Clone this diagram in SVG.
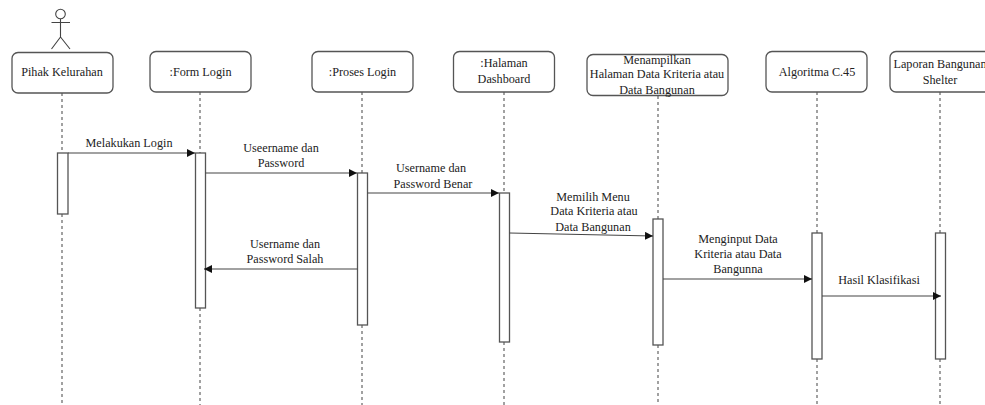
<svg xmlns="http://www.w3.org/2000/svg" width="985" height="405" viewBox="0 0 985 405">
<style>
.box{fill:#fff;stroke:#555;stroke-width:1.3}
.act{fill:#fff;stroke:#555;stroke-width:1.3}
.life{fill:none;stroke:#555;stroke-width:1.1;stroke-dasharray:3 3}
.msg{fill:none;stroke:#444;stroke-width:1.1;marker-end:url(#arr)}
.fig{fill:none;stroke:#444;stroke-width:1.1}
text{font-family:"Liberation Serif","Times New Roman",serif;font-size:12.2px;fill:#222;text-anchor:middle}
</style>
<defs>
<marker id="arr" markerUnits="userSpaceOnUse" markerWidth="9" markerHeight="8" refX="8" refY="4" orient="auto"><path d="M0 0L8 4L0 8Z" fill="#111"/></marker>
</defs>
<rect width="985" height="405" fill="#fff"/>
<g id="lifelines">
<path class="life" d="M62 93V153M62 214V405"/>
<path class="life" d="M200 92V153M200 308V405"/>
<path class="life" d="M362 92V173M362 325V405"/>
<path class="life" d="M504 92V193M504 342V405"/>
<path class="life" d="M658 96V219M658 345V405"/>
<path class="life" d="M817 92V233M817 359V405"/>
<path class="life" d="M940 92V233M940 359V405"/>
</g>
<g id="actor">
<circle class="fig" cx="60.500" cy="14" r="4.800"/>
<path class="fig" d="M60.500 19V37M51.500 22.500H70M60.500 37L51.500 49M60.500 37L70 49"/>
</g>
<g id="pihak"><rect class="box" x="12" y="52.500" width="101" height="40.500" rx="6"/><text x="62" y="76">Pihak Kelurahan</text></g>
<g id="form-login"><rect class="box" x="150" y="51.500" width="101" height="40.500" rx="6"/><text x="200.500" y="75.500">:Form Login</text></g>
<g id="proses-login"><rect class="box" x="312" y="51.500" width="101" height="40.500" rx="6"/><text x="362.500" y="75.500">:Proses Login</text></g>
<g id="dashboard"><rect class="box" x="453.500" y="51.500" width="101" height="40.500" rx="6"/><text x="504" y="67">:Halaman</text><text x="504" y="83">Dashboard</text></g>
<g id="menampilkan"><rect class="box" x="587" y="54.500" width="141" height="41" rx="6"/><text x="657" y="64">Menampilkan</text><text x="657" y="78">Halaman Data Kriteria atau</text><text x="657" y="94">Data Bangunan</text></g>
<g id="algoritma"><rect class="box" x="766" y="51.500" width="101" height="40.500" rx="6"/><text x="817" y="75.500">Algoritma C.45</text></g>
<g id="laporan"><rect class="box" x="890" y="51.500" width="101" height="40.500" rx="6"/><text x="940" y="68">Laporan Bangunan</text><text x="940" y="84">Shelter</text></g>
<g id="activations">
<rect class="act" x="57.500" y="153" width="10.500" height="61"/>
<rect class="act" x="195.500" y="153" width="10" height="155"/>
<rect class="act" x="357.500" y="173" width="10" height="152"/>
<rect class="act" x="499.500" y="193" width="10" height="149"/>
<rect class="act" x="653" y="219" width="10" height="126"/>
<rect class="act" x="812" y="233" width="10" height="126"/>
<rect class="act" x="935.500" y="233" width="10" height="126"/>
</g>
<g id="connectors">
<path class="msg" d="M68 153H195"/>
<path class="msg" d="M205.500 173H357"/>
<path class="msg" d="M367.500 193H499"/>
<path class="msg" d="M509.500 233L653 236"/>
<path class="msg" d="M663 279H812"/>
<path class="msg" d="M822 296H941"/>
<path class="msg" d="M357.500 269H204"/>
</g>
<g id="labels">
<text x="129" y="147">Melakukan Login</text>
<text x="281" y="152">Useername dan</text><text x="281" y="167">Password</text>
<text x="431" y="172">Username dan</text><text x="433" y="188">Password Benar</text>
<text x="593" y="201">Memilih Menu</text><text x="594" y="215">Data Kriteria atau</text><text x="593" y="231">Data Bangunan</text>
<text x="738" y="243">Menginput Data</text><text x="738" y="258">Kriteria atau Data</text><text x="738" y="273">Bangunna</text>
<text x="285" y="248">Username dan</text><text x="285" y="263">Password Salah</text>
<text x="879" y="284">Hasil Klasifikasi</text>
</g>
</svg>
